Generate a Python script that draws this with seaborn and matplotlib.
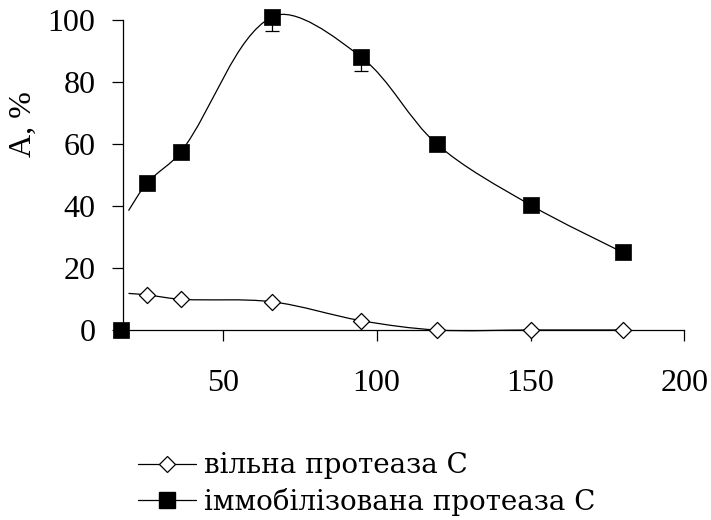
import numpy as np
import pandas as pd
import seaborn as sns
import matplotlib.pyplot as plt
from matplotlib.path import Path
from matplotlib.patches import PathPatch
from matplotlib.lines import Line2D

# Data
x_start = 19.4
imm_start = 38.5
free_start = 11.8
x_pts = [25.5, 36.5, 66, 95, 119.5, 150, 180]
imm_vals = [47.5, 57.5, 101, 88, 60, 40.3, 25]
imm_err_low = [0, 0, 4.5, 4.5, 0, 0, 0]
free_vals = [11.3, 9.9, 9.1, 3.0, 0, 0, 0]
lone_x = [17]
lone_y = [0]
x_ticks = [50, 100, 150, 200]
y_ticks = [0, 20, 40, 60, 80, 100]
label_free = 'вільна протеаза С'
label_imm = 'іммобілізована протеаза С'

sns.set_style('ticks')
plt.rcParams['font.family'] = ['Liberation Serif', 'DejaVu Serif']
plt.rcParams['text.color'] = 'black'
plt.rcParams['axes.labelcolor'] = 'black'


def smooth_path(xs, ys, k=1 / 3):
    # smoothed line like a spreadsheet chart: cubic Bezier through the points,
    # tangent lengths weighted by neighbouring segment lengths
    p = np.column_stack([xs, ys]).astype(float)
    n = len(p)
    d = np.hypot(np.diff(p[:, 0]) * 3.08, np.diff(p[:, 1]) * 3.1)
    verts = [p[0]]
    codes = [Path.MOVETO]
    for i in range(n - 1):
        if i > 0:
            c1 = p[i] + (p[i + 1] - p[i - 1]) * d[i] / (d[i - 1] + d[i]) * k
        else:
            c1 = p[i] + (p[i + 1] - p[i]) * k / 2
        if i + 2 < n:
            c2 = p[i + 1] - (p[i + 2] - p[i]) * d[i] / (d[i] + d[i + 1]) * k
        else:
            c2 = p[i + 1] - (p[i + 1] - p[i]) * k / 2
        verts += [c1, c2, p[i + 1]]
        codes += [Path.CURVE4] * 3
    return Path(verts, codes)


fig = plt.figure(figsize=(7.11, 5.2), dpi=100)
ax = fig.add_axes([0.1734, 0.3654, 0.7893, 0.5962])

# smoothed lines
for y0, vals in [(free_start, free_vals), (imm_start, imm_vals)]:
    path = smooth_path([x_start] + x_pts, [y0] + vals)
    ax.add_patch(PathPatch(path, facecolor='none', edgecolor='black',
                           lw=0.9, clip_on=False, zorder=2))

# error bars (lower only)
ax.errorbar(x_pts, imm_vals, yerr=[imm_err_low, [0] * len(imm_err_low)],
            fmt='none', ecolor='black', elinewidth=0.9, capsize=5,
            capthick=0.9, clip_on=False, zorder=3)

df_free = pd.DataFrame({'x': x_pts, 'y': free_vals})
df_imm = pd.DataFrame({'x': x_pts, 'y': imm_vals})
sns.scatterplot(data=df_free, x='x', y='y', marker='D', s=8.2 ** 2,
                facecolor='white', edgecolor='black', linewidth=0.9,
                clip_on=False, zorder=4, ax=ax)
sns.scatterplot(data=df_imm, x='x', y='y', marker='s', s=11.5 ** 2,
                color='black', edgecolor='black', linewidth=0.5,
                clip_on=False, zorder=4, ax=ax)
sns.scatterplot(x=lone_x, y=lone_y, marker='s', s=11.5 ** 2,
                color='black', edgecolor='black', linewidth=0.5,
                clip_on=False, zorder=5, ax=ax)

ax.set_xlim(17.7, 200)
ax.set_ylim(0, 100)
ax.set_xticks(x_ticks)
ax.set_yticks(y_ticks)
sns.despine(ax=ax)
for s in ['left', 'bottom']:
    ax.spines[s].set_linewidth(0.9)
    ax.spines[s].set_color('black')
ax.tick_params(axis='both', direction='out', length=8, width=0.9,
               colors='black', labelsize=23)
ax.tick_params(axis='x', pad=20)
ax.tick_params(axis='y', pad=12)
ax.set_xlabel('')
ax.set_ylabel('А, %', fontsize=23, color='black')
ax.yaxis.set_label_coords(-0.1788, 0.665)
ax.yaxis.label.set_va('center')

handles = [
    Line2D([], [], color='black', lw=0.9, marker='D', markersize=8.2,
           markerfacecolor='white', markeredgecolor='black', markeredgewidth=0.9),
    Line2D([], [], color='black', lw=0.9, marker='s', markersize=11.5,
           markerfacecolor='black', markeredgecolor='black'),
]
fig.legend(handles, [label_free, label_imm], loc='center left',
           bbox_to_anchor=(137.7 / 711, 1 - 484 / 520), frameon=False,
           borderpad=0, borderaxespad=0, handlelength=2.1,
           handletextpad=0.28, labelspacing=0.3, labelcolor='black',
           prop={'family': ['DejaVu Serif'], 'size': 20})

fig.savefig('out.png', dpi=100)
